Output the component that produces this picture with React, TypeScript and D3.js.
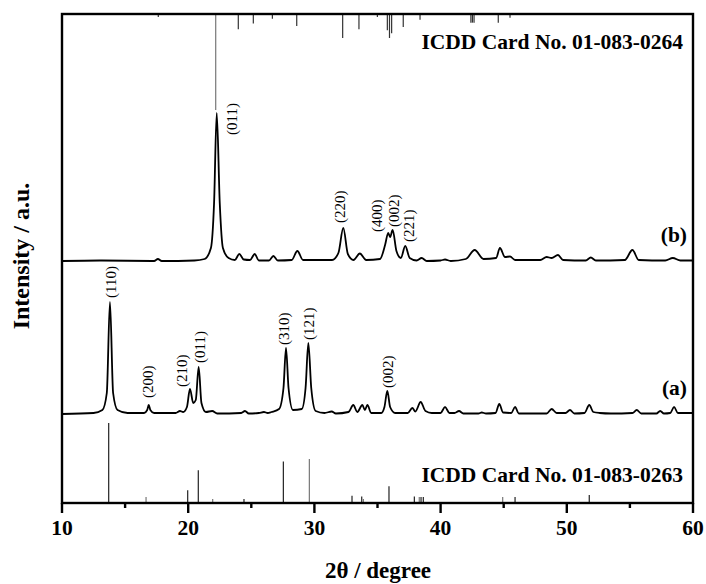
import React from "react";
import * as d3 from "d3";

// ---- data ----
const xTicks = [10, 20, 30, 40, 50, 60];
const xMinorTicks = [15, 25, 35, 45, 55];

// pattern (a): [2θ, intensity a.u. (stacked)]
const patternA: [number, number][] = [
  [10, 89], [12.5, 90], [13.2, 93], [13.55, 110], [13.8, 201], [14.05, 110], [14.4, 93], [15.2, 90],
  [16.5, 90], [16.75, 93], [16.87, 98], [17.0, 93], [17.3, 90], [19.0, 90], [19.35, 92], [19.6, 91],
  [19.9, 96], [20.14, 114], [20.4, 100], [20.6, 103], [20.83, 136], [21.05, 100], [21.4, 91], [21.9, 92],
  [22.3, 89.5], [24.2, 90], [24.5, 92], [24.8, 89.5], [25.6, 90], [26.0, 91], [26.3, 90], [26.6, 91],
  [27.2, 94], [27.55, 115], [27.75, 155], [27.95, 115], [28.3, 93], [29.0, 94], [29.3, 115], [29.52, 160],
  [29.75, 115], [30.1, 92], [30.8, 90], [31.37, 91.5], [31.7, 89.5], [32.7, 91], [33.08, 98], [33.4, 91],
  [33.8, 98], [34.0, 93], [34.2, 98], [34.5, 90], [35.3, 90], [35.55, 96], [35.78, 112], [36.0, 96],
  [36.4, 90], [37.4, 90], [37.76, 95], [38.0, 91.5], [38.42, 101], [38.8, 92], [39.3, 90], [40.0, 90],
  [40.35, 96], [40.7, 90], [41.1, 90], [41.46, 92], [41.8, 89.5], [43.0, 89.5], [43.26, 90.5], [43.6, 89.5],
  [44.35, 90], [44.65, 99], [44.95, 90.5], [45.6, 90], [45.9, 96], [46.2, 89.5], [48.4, 89.5], [48.8, 94],
  [49.2, 90], [49.9, 90], [50.25, 93], [50.6, 89.5], [51.4, 90], [51.78, 98], [52.1, 91], [52.6, 90],
  [53.5, 89.5], [55.2, 90], [55.54, 93], [55.9, 89.5], [57.1, 89.5], [57.4, 92], [57.7, 89.5], [58.2, 90],
  [58.5, 96], [58.8, 90], [60, 90],
];

// pattern (b)
const patternB: [number, number][] = [
  [10, 242], [13, 242.5], [17.3, 242], [17.6, 244], [17.9, 242], [20.5, 242.5], [21.3, 244], [21.8, 255],
  [22.05, 300], [22.26, 390], [22.5, 300], [22.75, 255], [23.2, 245], [23.7, 243], [24.05, 249], [24.4, 243.5],
  [24.9, 243], [25.27, 249], [25.6, 242.5], [26.4, 242.5], [26.75, 247], [27.1, 242.5], [28.2, 243], [28.65, 252],
  [29.1, 243], [31.4, 243], [31.9, 250], [32.29, 275], [32.65, 249], [33.1, 243], [33.6, 249.5], [34.1, 243],
  [35.2, 244], [35.6, 258], [35.85, 270], [36.0, 266], [36.2, 273], [36.5, 252], [36.85, 245], [37.2, 257],
  [37.55, 245], [38.1, 242.5], [38.5, 245], [38.9, 242], [40.0, 242.5], [40.35, 243.5], [40.8, 242], [42.0, 244],
  [42.7, 253], [43.4, 244], [44.4, 245], [44.7, 255], [45.1, 246], [45.5, 246.5], [45.9, 243], [47.9, 243],
  [48.4, 246], [48.8, 245], [49.3, 248], [49.7, 243], [51.5, 242.5], [51.9, 245.5], [52.3, 242.5], [54.6, 243],
  [55.2, 253], [55.7, 243], [57.8, 242.5], [58.4, 245], [59.0, 242.5], [60, 242.5],
];

// ICDD 01-083-0264 (top, hanging): [2θ, relative intensity]
const card0264: [number, number][] = [
  [17.63, 3], [22.18, 100], [23.97, 16], [25.16, 10], [26.67, 5], [28.6, 12.5], [32.24, 25], [33.53, 16],
  [34.99, 3], [35.78, 17], [35.95, 25], [36.12, 20], [37.04, 13.5], [38.37, 6], [42.4, 9], [42.52, 9],
  [42.65, 9], [44.57, 9], [45.5, 4],
];

// ICDD 01-083-0263 (bottom, rising)
const card0263: [number, number][] = [
  [13.7, 100], [16.66, 7.5], [19.96, 16], [20.8, 41], [21.94, 5], [24.42, 5], [27.54, 52], [29.6, 55],
  [32.98, 9], [33.75, 8], [33.88, 5], [35.91, 21], [37.92, 8], [38.31, 7.5], [38.45, 7.5], [38.63, 7.5],
  [44.92, 7.5], [45.9, 7.5], [51.78, 10],
];

// peak labels: [hkl, 2θ, intensity at label foot]
const labelsB: [string, number, number][] = [
  ["(011)", 23.47, 368], ["(220)", 31.97, 280], ["(400)", 34.94, 271], ["(002)", 36.25, 276], ["(221)", 37.44, 261],
];
const labelsA: [string, number, number][] = [
  ["(110)", 13.88, 205], ["(200)", 16.76, 105], ["(210)", 19.49, 116], ["(011)", 20.94, 140],
  ["(310)", 27.54, 158], ["(121)", 29.52, 163], ["(002)", 35.78, 115],
];

const cardTop = "ICDD Card No. 01-083-0264";
const cardBottom = "ICDD Card No. 01-083-0263";
const seriesNames = ["(a)", "(b)"];
const seriesNameY = [108, 261];
const xTitle = "2θ / degree";
const yTitle = "Intensity / a.u.";

// ---- layout ----
const W = 706, H = 584;
const L = 62, R = 693, T = 14, B = 503;
const serif = "'Liberation Serif', 'Times New Roman', serif";

export default function App() {
  const x = d3.scaleLinear().domain([10, 60]).range([L, R]);
  const y = d3.scaleLinear().domain([0, 489]).range([B, T]);
  const topStick = d3.scaleLinear().domain([0, 100]).range([0, 96]);
  const botStick = d3.scaleLinear().domain([0, 100]).range([0, 80]);
  const line = d3.line<[number, number]>().x(d => x(d[0])).y(d => y(d[1])).curve(d3.curveMonotoneX);

  return (
    <svg width={W} height={H} style={{ position: "absolute", left: 0, top: 0, background: "#fff" }}
      fontFamily={serif}>
      <rect x={0} y={0} width={W} height={H} fill="#fff" />
      {/* reference sticks */}
      {card0264.map(([t, v], i) => (
        <line key={"t" + i} x1={x(t)} x2={x(t)} y1={T} y2={T + topStick(v)}
          stroke={v > 50 ? "#777" : "#333"} strokeWidth={1.2} />
      ))}
      {card0263.map(([t, v], i) => (
        <line key={"b" + i} x1={x(t)} x2={x(t)} y1={B} y2={B - botStick(v)}
          stroke={i % 3 === 1 ? "#777" : "#222"} strokeWidth={1.2} />
      ))}
      {/* patterns */}
      <path d={line(patternA) || ""} fill="none" stroke="#000" strokeWidth={1.8} strokeLinejoin="round" />
      <path d={line(patternB) || ""} fill="none" stroke="#000" strokeWidth={1.8} strokeLinejoin="round" />
      {/* peak labels */}
      {[...labelsA, ...labelsB].map(([s, t, v], i) => (
        <text key={"l" + i} transform={`translate(${x(t)},${y(v)}) rotate(-90)`} dy="0.35em"
          fontSize={15} fill="#000">{s}</text>
      ))}
      {/* frame */}
      <rect x={L} y={T} width={R - L} height={B - T} fill="none" stroke="#000" strokeWidth={2.4} />
      {/* x ticks */}
      {xTicks.map(t => (
        <g key={"xt" + t}>
          <line x1={x(t)} x2={x(t)} y1={B} y2={B + 10} stroke="#000" strokeWidth={2.4} />
          <text x={x(t)} y={535} textAnchor="middle" fontSize={21.5} fontWeight="bold">{t}</text>
        </g>
      ))}
      {xMinorTicks.map(t => (
        <line key={"xm" + t} x1={x(t)} x2={x(t)} y1={B} y2={B + 5} stroke="#000" strokeWidth={2.4} />
      ))}
      {/* card labels */}
      <text x={683} y={49} textAnchor="end" fontSize={21.5} fontWeight="bold">{cardTop}</text>
      <text x={683} y={482} textAnchor="end" fontSize={21.5} fontWeight="bold">{cardBottom}</text>
      {seriesNames.map((s, i) => (
        <text key={s} x={687} y={B - seriesNameY[i]} textAnchor="end" fontSize={21.5} fontWeight="bold">{s}</text>
      ))}
      {/* titles */}
      <text x={378} y={578} textAnchor="middle" fontSize={23} fontWeight="bold">{xTitle}</text>
      <text transform={`translate(29,256) rotate(-90)`} textAnchor="middle" fontSize={24} fontWeight="bold">{yTitle}</text>
    </svg>
  );
}
